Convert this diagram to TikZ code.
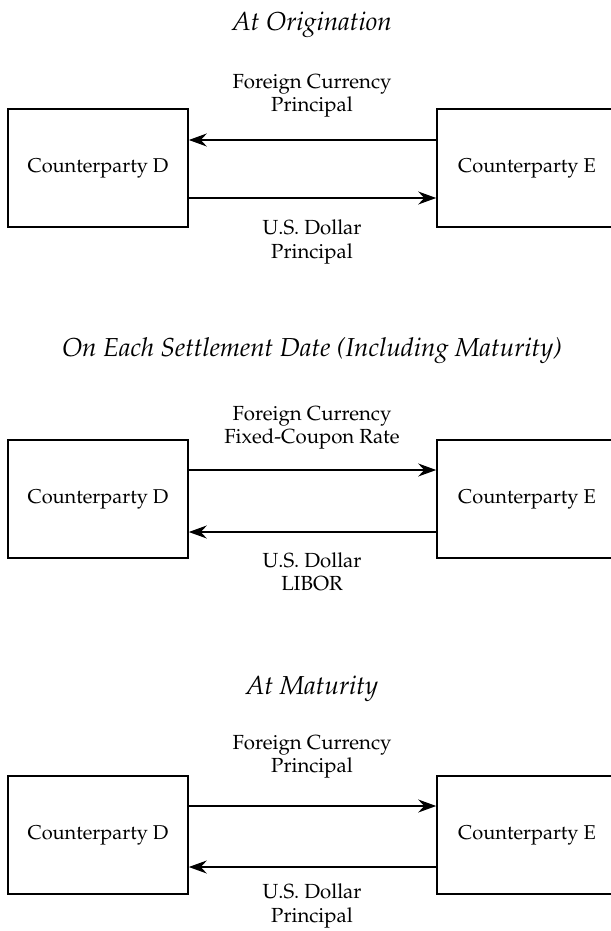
\documentclass[tikz,border=0pt]{standalone}
\usepackage[T1]{fontenc}
\usepackage{mathpazo}
\usepackage{tikz}
\usetikzlibrary{arrows.meta,positioning}

\tikzset{
  party/.style={draw, line width=0.8pt, minimum width=90pt, minimum height=59pt,
    inner sep=0pt, font=\fontsize{10}{12}\selectfont},
  flow/.style={-{Stealth[length=9pt,width=6.5pt,inset=3pt]}, line width=0.75pt},
  lbl/.style={align=center, inner sep=0pt, font=\fontsize{10.2}{11.6}\selectfont},
  ttl/.style={inner sep=0pt, font=\fontsize{13}{15}\selectfont\itshape}
}

\begin{document}
\begin{tikzpicture}[x=0.5pt,y=-0.5pt]
    \useasboundingbox (0,0) rectangle (610,931);

    % At origination
    \node[ttl] (orig) at (312,25) {At Origination};
    \node[party] (d1) at (98,168) {Counterparty D};
    \node[party] (e1) at (527,168) {Counterparty E};
    \draw[flow] ([yshift=14pt]e1.west) -- ([yshift=14pt]d1.east);
    \draw[flow] ([yshift=-15pt]d1.east) -- ([yshift=-15pt]e1.west);
    \node[lbl] (fc1) at (312,96) {Foreign Currency\\Principal};
    \node[lbl] (us1) at (312,242) {U.S. Dollar\\Principal};

    % Each settlement date
    \node[ttl] (settle) at (312,351) {On Each Settlement Date (Including Maturity)};
    \node[party] (d2) at (98,499) {Counterparty D};
    \node[party] (e2) at (527,499) {Counterparty E};
    \draw[flow] ([yshift=14.5pt]d2.east) -- ([yshift=14.5pt]e2.west);
    \draw[flow] ([yshift=-16.5pt]e2.west) -- ([yshift=-16.5pt]d2.east);
    \node[lbl] (fc2) at (312,428) {Foreign Currency\\Fixed-Coupon Rate};
    \node[lbl] (us2) at (312,572) {U.S. Dollar\\LIBOR};

    % At maturity
    \node[ttl] (mat) at (312,689) {At Maturity};
    \node[party] (d3) at (98,835) {Counterparty D};
    \node[party] (e3) at (527,835) {Counterparty E};
    \draw[flow] ([yshift=14.5pt]d3.east) -- ([yshift=14.5pt]e3.west);
    \draw[flow] ([yshift=-16pt]e3.west) -- ([yshift=-16pt]d3.east);
    \node[lbl] (fc3) at (312,757) {Foreign Currency\\Principal};
    \node[lbl] (us3) at (312,906) {U.S. Dollar\\Principal};
\end{tikzpicture}
\end{document}
